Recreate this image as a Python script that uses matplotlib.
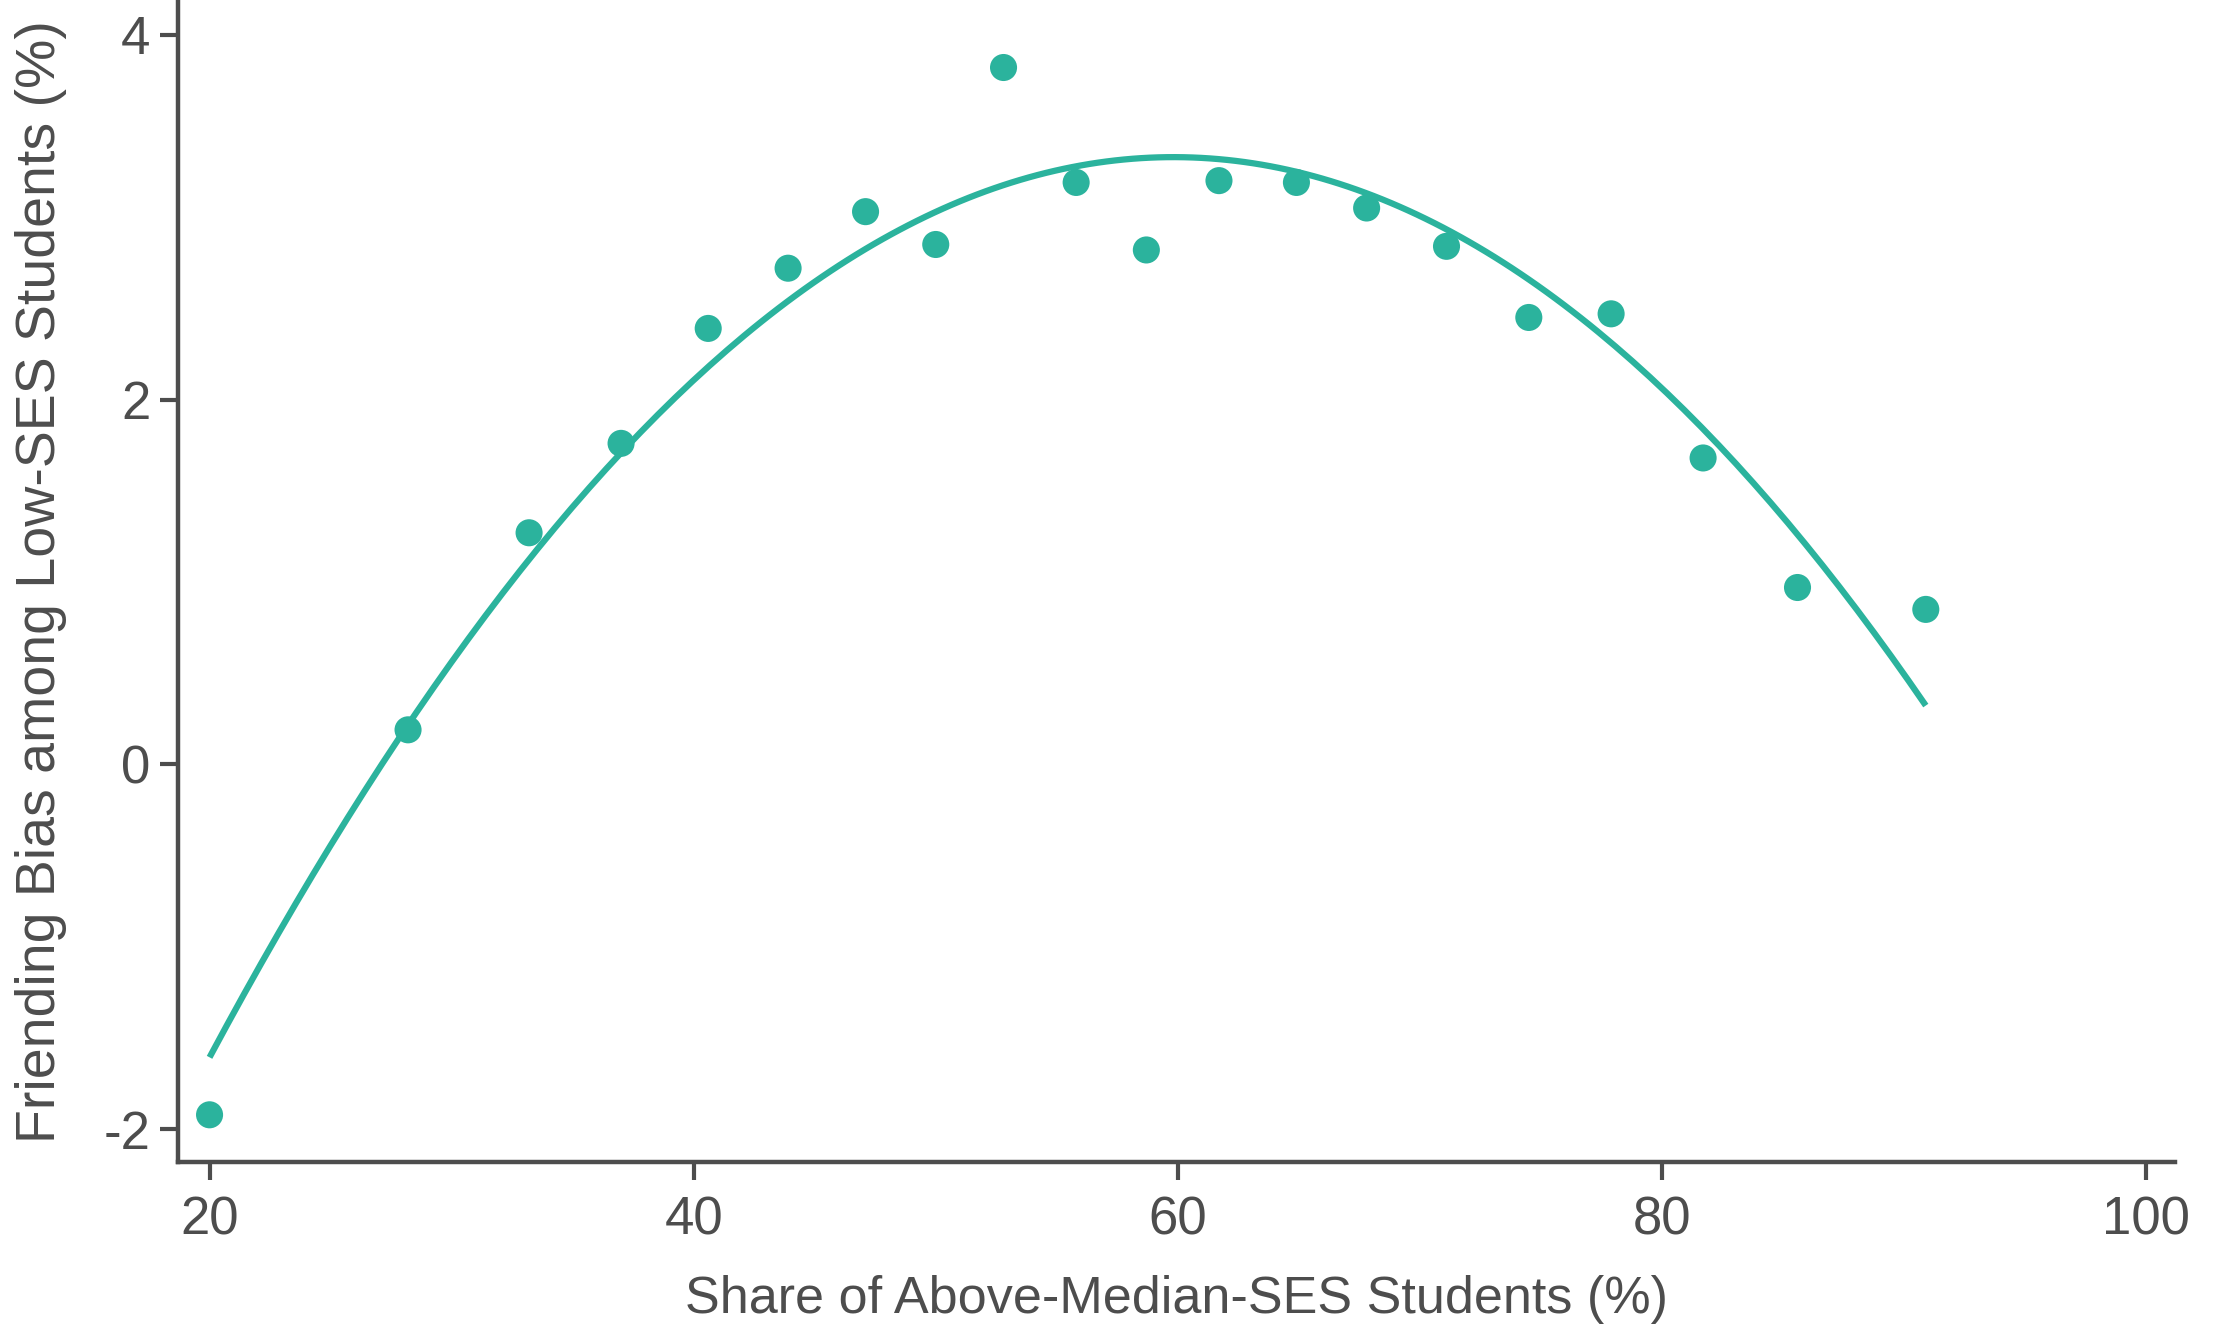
import numpy as np
import matplotlib
matplotlib.use("Agg")
import matplotlib.pyplot as plt

# Binned scatter: share of above-median-SES students vs friending bias
share_pct = [20.0, 28.2, 33.2, 37.0, 40.6, 43.9, 47.1, 50.0, 52.8, 55.8,
             58.7, 61.7, 64.9, 67.8, 71.1, 74.5, 77.9, 81.7, 85.6, 90.9]
bias_pct = [-1.92, 0.19, 1.27, 1.76, 2.39, 2.72, 3.03, 2.85, 3.82, 3.19,
            2.82, 3.20, 3.19, 3.05, 2.84, 2.45, 2.47, 1.68, 0.97, 0.85]

x_ticks = [20, 40, 60, 80, 100]
y_ticks = [-2, 0, 2, 4]

teal = "#2BB39D"
grey = "#4D4D4D"

plt.rcParams['font.family'] = ['Liberation Sans', 'DejaVu Sans']
plt.rcParams['axes.unicode_minus'] = False

fig = plt.figure(figsize=(22.15, 13.26), dpi=100)
ax = fig.add_axes([0.0804, 0.1235, 0.9016, 0.8765])

x = np.array(share_pct)
y = np.array(bias_pct)

# quadratic fit line
coef = np.polyfit(x, y, 2)
xs = np.linspace(x.min(), x.max(), 200)
ax.plot(xs, np.polyval(coef, xs), color=teal, lw=4.5, solid_capstyle='butt', zorder=2)

ax.scatter(x, y, s=380, color=teal, edgecolors='none', zorder=3)

ax.set_xlim(18.7, 101.2)
ax.set_ylim(-2.18, 4.19)
ax.set_xticks(x_ticks)
ax.set_yticks(y_ticks)

for side in ['top', 'right']:
    ax.spines[side].set_visible(False)
for side in ['left', 'bottom']:
    ax.spines[side].set_color(grey)
    ax.spines[side].set_linewidth(3.2)

ax.tick_params(axis='both', colors=grey, labelcolor=grey, width=3,
               length=13, labelsize=38)
ax.tick_params(axis='x', pad=11)
ax.tick_params(axis='y', pad=7)

ax.set_xlabel("Share of Above-Median-SES Students (%)", fontsize=37.5,
              color=grey, labelpad=21)
ax.set_ylabel("Friending Bias among Low-SES Students (%)", fontsize=40,
              color=grey, labelpad=26)

fig.savefig("out.png", dpi=100)
